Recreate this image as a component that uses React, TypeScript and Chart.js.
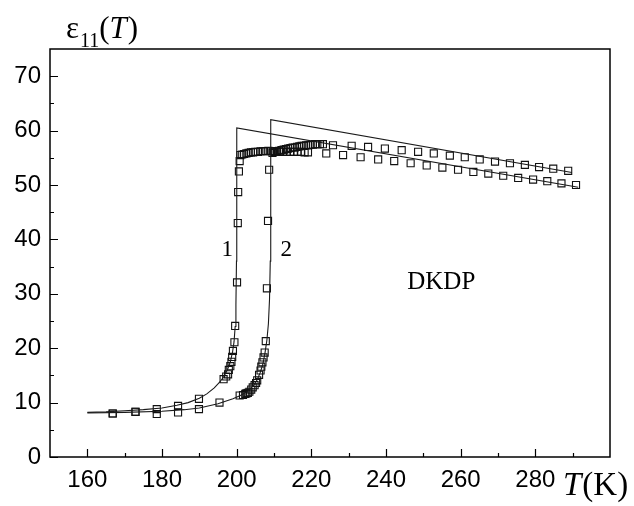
import React, { useEffect, useRef } from "react";
import { Chart, registerables } from "chart.js";

Chart.register(...registerables);

// ---- axis ticks ----
const xTickValues = [160, 180, 200, 220, 240, 260, 280];
const xMinorTicks = [170, 190, 210, 230, 250, 270, 290];
const yTickValues = [0, 10, 20, 30, 40, 50, 60, 70];
const yMinorTicks = [5, 15, 25, 35, 45, 55, 65];

// ---- fit curve 1 (Tc = 200 K) ----
const fit1T = [160, 165, 170, 175, 180, 184, 187, 190, 192, 194, 195.5, 196.5, 197.5, 198.3, 198.9, 199.3, 199.6, 199.8, 199.95, 200, 200.05, 291.5];
const fit1E = [8.2, 8.3, 8.5, 8.7, 9.0, 9.5, 10.0, 10.8, 11.6, 12.7, 13.8, 14.7, 16.0, 17.5, 19.3, 21.2, 24.0, 28.0, 36.0, 45.0, 60.5, 49.6];

// ---- fit curve 2 (Tc = 209 K) ----
const fit2T = [160, 170, 180, 186, 190, 195, 199, 201, 203, 204.5, 205.5, 206.3, 207, 207.6, 208.1, 208.5, 208.8, 209, 209.1, 209.15, 289.8];
const fit2E = [8.1, 8.2, 8.4, 8.7, 9.0, 9.8, 10.7, 11.3, 12.1, 13.1, 14.2, 15.5, 17.0, 19.2, 21.5, 24.5, 29.0, 36.0, 45.0, 62.0, 52.3];

// ---- measured sample 1 ----
const s1T = [166.8, 172.9, 178.6, 184.3, 189.9, 196.5, 197.2, 197.7, 197.9, 198.3, 198.6, 198.8, 199.0, 199.4, 199.6, 200.1, 200.3, 200.4, 200.6, 200.8,
  201.0, 201.5, 202.0, 202.6, 203.2, 203.8, 204.4, 205.0, 205.7, 206.4, 207.1, 207.8, 208.5, 209.2, 210.0, 210.8, 211.6, 212.5, 213.4, 214.3, 215.3, 216.3, 217.3, 218.2, 219.1,
  224.0, 228.5, 233.2, 237.9, 242.2, 246.6, 250.9, 255.1, 259.3, 263.4, 267.4, 271.4, 275.4, 279.4, 283.2, 287.0, 290.9];
const s1E = [8.0, 8.3, 8.8, 9.4, 10.7, 14.3, 14.8, 15.2, 16.0, 16.7, 17.5, 18.4, 19.5, 21.1, 24.1, 32.1, 43.0, 48.7, 52.5, 54.4,
  55.5, 55.6, 55.7, 55.8, 55.9, 56.0, 56.0, 56.1, 56.1, 56.2, 56.2, 56.2, 56.3, 56.2, 56.2, 56.1, 56.1, 56.1, 56.1, 56.1, 56.1, 56.1, 56.1, 56.0, 56.0,
  55.8, 55.5, 55.1, 54.7, 54.4, 54.0, 53.6, 53.2, 52.8, 52.4, 52.1, 51.7, 51.3, 51.0, 50.7, 50.3, 50.0];

// ---- measured sample 2 ----
const s2T = [166.8, 172.9, 178.6, 184.3, 189.9, 195.4, 200.8, 201.7, 202.3, 202.6, 203.0, 203.4, 203.9, 204.3, 204.8, 205.2, 205.5, 206.0, 206.4, 206.6, 206.9, 207.2, 207.5, 207.8, 208.1, 208.4, 208.7,
  209.6, 210.2, 210.8, 211.4, 212.0, 212.6, 213.2, 213.8, 214.4, 215.0, 215.6, 216.2, 216.8, 217.4, 218.0, 218.6, 219.2, 219.8, 220.4, 221.0, 221.6, 222.3, 223.1,
  225.8, 230.8, 235.2, 239.7, 244.2, 248.6, 252.8, 257.1, 261.1, 265.1, 269.2, 273.2, 277.2, 281.0, 284.8, 288.8];
const s2E = [8.0, 8.3, 7.9, 8.2, 8.8, 10.0, 11.3, 11.4, 11.6, 11.7, 11.8, 12.0, 12.4, 12.8, 13.2, 13.6, 14.1, 15.1, 15.9, 16.6, 17.4, 18.3, 19.2, 21.3, 31.0, 43.4, 52.8,
  55.9, 56.1, 56.2, 56.3, 56.4, 56.5, 56.6, 56.7, 56.8, 56.9, 56.9, 57.0, 57.1, 57.2, 57.2, 57.3, 57.3, 57.4, 57.4, 57.5, 57.5, 57.5, 57.5,
  57.3, 57.2, 57.0, 56.7, 56.4, 56.1, 55.8, 55.4, 55.1, 54.7, 54.3, 54.0, 53.7, 53.3, 53.0, 52.6];

// ---- annotations (data coordinates) ----
const curveLabels = ["1", "2"];
const curveLabelT = [197.5, 213.3];
const curveLabelE = [38.1, 38.1];
const materialLabel = "DKDP";
const materialT = 254.8;
const materialE = 32.0;

const toPts = (xs: number[], ys: number[]) => xs.map((x, i) => ({ x, y: ys[i] }));

const SERIF = '"Liberation Serif", "Times New Roman", serif';
const SANS = '"Liberation Sans", Arial, sans-serif';

const framePlugin = {
  id: "frameAndText",
  afterDraw(chart: any) {
    const { ctx, chartArea } = chart;
    const xs = chart.scales.x;
    const ys = chart.scales.y;
    const { left, right, top, bottom } = chartArea;
    ctx.save();
    ctx.strokeStyle = "#000";
    ctx.lineWidth = 1.5;
    ctx.strokeRect(left, top, right - left, bottom - top);
    ctx.lineWidth = 1.2;
    ctx.beginPath();
    xTickValues.forEach((v) => {
      const p = Math.round(xs.getPixelForValue(v)) + 0.5;
      ctx.moveTo(p, bottom);
      ctx.lineTo(p, bottom - 8);
    });
    xMinorTicks.forEach((v) => {
      const p = Math.round(xs.getPixelForValue(v)) + 0.5;
      ctx.moveTo(p, bottom);
      ctx.lineTo(p, bottom - 4);
    });
    yTickValues.forEach((v) => {
      const p = Math.round(ys.getPixelForValue(v)) + 0.5;
      ctx.moveTo(left, p);
      ctx.lineTo(left + 8, p);
    });
    yMinorTicks.forEach((v) => {
      const p = Math.round(ys.getPixelForValue(v)) + 0.5;
      ctx.moveTo(left, p);
      ctx.lineTo(left + 4, p);
    });
    ctx.stroke();

    ctx.fillStyle = "#000";
    ctx.textBaseline = "middle";
    ctx.textAlign = "center";
    ctx.font = `23px ${SERIF}`;
    curveLabels.forEach((t, i) => {
      ctx.fillText(t, xs.getPixelForValue(curveLabelT[i]), ys.getPixelForValue(curveLabelE[i]));
    });
    ctx.font = `25px ${SERIF}`;
    ctx.fillText(materialLabel, xs.getPixelForValue(materialT), ys.getPixelForValue(materialE));

    // y axis title: ε11(T)
    ctx.textAlign = "left";
    ctx.textBaseline = "alphabetic";
    let x = left + 16;
    const base = top - 11.5;
    ctx.font = `31px ${SERIF}`;
    ctx.fillText("ε", x, base);
    x += ctx.measureText("ε").width + 1;
    ctx.font = `20px ${SERIF}`;
    ctx.fillText("11", x, base + 9);
    x += ctx.measureText("11").width;
    ctx.font = `31px ${SERIF}`;
    ctx.fillText("(", x, base);
    x += ctx.measureText("(").width;
    ctx.font = `italic 31px ${SERIF}`;
    ctx.fillText("T", x, base);
    x += ctx.measureText("T").width + 1;
    ctx.font = `31px ${SERIF}`;
    ctx.fillText(")", x, base);

    // x axis title: T(K)
    let x2 = right - 47;
    const base2 = bottom + 38;
    ctx.font = `italic 33px ${SERIF}`;
    ctx.fillText("T", x2, base2);
    x2 += ctx.measureText("T").width + 1;
    ctx.font = `33px ${SERIF}`;
    ctx.fillText("(K)", x2, base2);
    ctx.restore();
  },
};

export default function App() {
  const ref = useRef<HTMLCanvasElement | null>(null);
  useEffect(() => {
    if (!ref.current) return;
    const pointStyle = {
      showLine: false,
      pointStyle: "rect" as const,
      pointRadius: 5,
      pointBorderWidth: 1.1,
      pointBorderColor: "#111",
      pointBackgroundColor: "rgba(0,0,0,0)",
      borderColor: "#111",
      backgroundColor: "rgba(0,0,0,0)",
    };
    const lineStyle = {
      showLine: true,
      pointRadius: 0,
      borderColor: "#1a1a1a",
      borderWidth: 1.1,
      tension: 0,
      fill: false,
    };
    const chart = new Chart(ref.current, {
      type: "scatter",
      data: {
        datasets: [
          { label: "fit 1", data: toPts(fit1T, fit1E), ...lineStyle },
          { label: "fit 2", data: toPts(fit2T, fit2E), ...lineStyle },
          { label: "sample 1", data: toPts(s1T, s1E), ...pointStyle },
          { label: "sample 2", data: toPts(s2T, s2E), ...pointStyle },
        ],
      },
      options: {
        animation: false,
        responsive: false,
        devicePixelRatio: 1,
        layout: { padding: { top: 49, right: 24, left: 0, bottom: 0 } },
        plugins: { legend: { display: false }, tooltip: { enabled: false } },
        scales: {
          x: {
            type: "linear",
            min: 150,
            max: 300,
            afterBuildTicks: (s: any) => {
              s.ticks = xTickValues.map((v) => ({ value: v }));
            },
            afterFit: (s: any) => {
              s.height = 49;
            },
            grid: { display: false, drawTicks: false },
            border: { display: false },
            ticks: {
              font: { family: SANS, size: 24 },
              color: "#000",
              padding: 9,
              maxRotation: 0,
              autoSkip: false,
            },
          },
          y: {
            type: "linear",
            min: 0,
            max: 75,
            afterBuildTicks: (s: any) => {
              s.ticks = yTickValues.map((v) => ({ value: v }));
            },
            afterFit: (s: any) => {
              s.width = 50;
            },
            grid: { display: false, drawTicks: false },
            border: { display: false },
            ticks: {
              font: { family: SANS, size: 24 },
              color: "#000",
              padding: 9,
              autoSkip: false,
            },
          },
        },
      },
      plugins: [framePlugin],
    });
    return () => chart.destroy();
  }, []);
  return (
    <div style={{ position: "absolute", left: 0, top: 0, width: 634, height: 506, background: "#fff" }}>
      <canvas ref={ref} width={634} height={506} style={{ width: 634, height: 506, display: "block" }} />
    </div>
  );
}
